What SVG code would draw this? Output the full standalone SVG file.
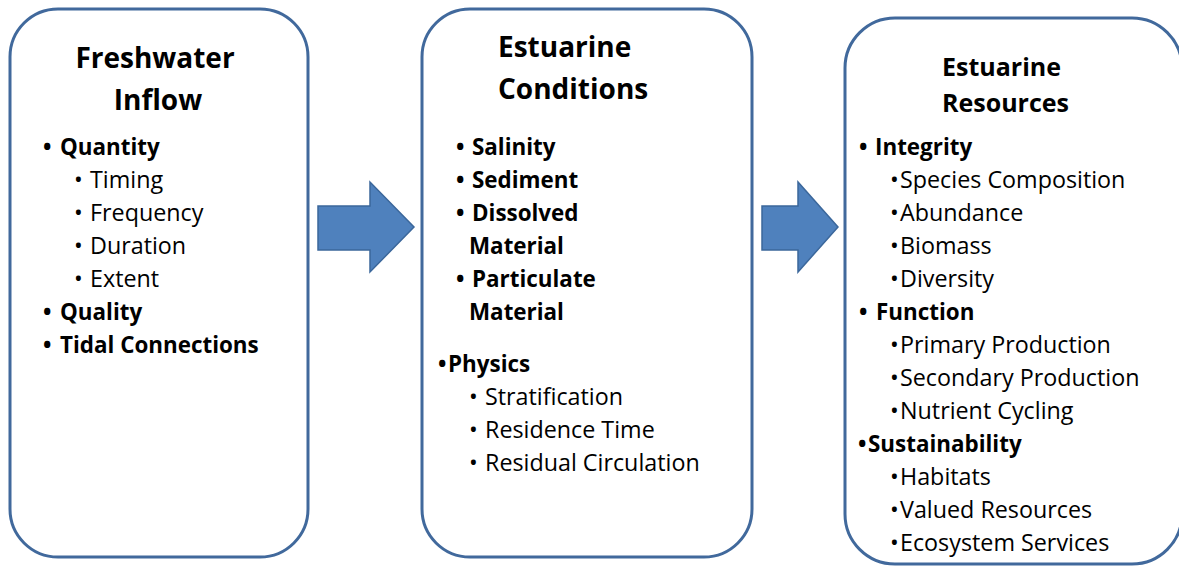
<svg xmlns="http://www.w3.org/2000/svg" width="1179" height="567" viewBox="0 0 1179 567">
<style>
.box{fill:#ffffff;stroke:#41699c;stroke-width:3}
.arrow{fill:#4f81bd;stroke:#3b679b;stroke-width:1.5}
text{font-family:"Open Sans","Liberation Sans",sans-serif;fill:#000}
.t1{font-size:28px;font-weight:bold}
.t3{font-size:25px;font-weight:bold}
.b{font-size:22.4px;font-weight:bold}
.r{font-size:23.3px}
</style>
<rect width="1179" height="567" fill="#fff"/>
<g id="connectors">
<polygon class="arrow" points="318,206 370,206 370,182 414,227 370,272 370,250 318,250"/>
<polygon class="arrow" points="762,206 798,206 798,182 838,227 798,272 798,250 762,250"/>
</g>
<g id="freshwater-inflow">
<rect class="box" x="10" y="9" width="298" height="548" rx="48"/>
<text class="t1" x="155" y="68" text-anchor="middle">Freshwater</text>
<text class="t1" x="158" y="110" text-anchor="middle">Inflow</text>
<text class="b" y="155"><tspan x="43">•</tspan><tspan x="60">Quantity</tspan></text>
<text class="r" y="188"><tspan x="74">•</tspan><tspan x="90">Timing</tspan></text>
<text class="r" y="221"><tspan x="74">•</tspan><tspan x="90">Frequency</tspan></text>
<text class="r" y="254"><tspan x="74">•</tspan><tspan x="90">Duration</tspan></text>
<text class="r" y="287"><tspan x="74">•</tspan><tspan x="90">Extent</tspan></text>
<text class="b" y="320"><tspan x="43">•</tspan><tspan x="60">Quality</tspan></text>
<text class="b" y="353"><tspan x="43">•</tspan><tspan x="60">Tidal Connections</tspan></text>
</g>
<g id="estuarine-conditions">
<rect class="box" x="422" y="9" width="330" height="548" rx="48"/>
<text class="t1" x="498" y="57">Estuarine</text>
<text class="t1" x="498" y="99">Conditions</text>
<text class="b" y="155"><tspan x="456">•</tspan><tspan x="472">Salinity</tspan></text>
<text class="b" y="188"><tspan x="456">•</tspan><tspan x="472">Sediment</tspan></text>
<text class="b" y="221"><tspan x="456">•</tspan><tspan x="472">Dissolved</tspan></text>
<text class="b" x="469" y="254">Material</text>
<text class="b" y="287"><tspan x="456">•</tspan><tspan x="472">Particulate</tspan></text>
<text class="b" x="469" y="320">Material</text>
<text class="b" y="372"><tspan x="438">•</tspan><tspan x="448">Physics</tspan></text>
<text class="r" y="405"><tspan x="469">•</tspan><tspan x="485">Stratification</tspan></text>
<text class="r" y="438"><tspan x="469">•</tspan><tspan x="485">Residence Time</tspan></text>
<text class="r" y="471"><tspan x="469">•</tspan><tspan x="485">Residual Circulation</tspan></text>
</g>
<g id="estuarine-resources">
<rect class="box" x="845" y="18" width="337" height="546" rx="50"/>
<text class="t3" x="942" y="76">Estuarine</text>
<text class="t3" x="942" y="112">Resources</text>
<text class="b" y="155"><tspan x="859">•</tspan><tspan x="875">Integrity</tspan></text>
<text class="r" y="188"><tspan x="890">•</tspan><tspan x="900">Species Composition</tspan></text>
<text class="r" y="221"><tspan x="890">•</tspan><tspan x="900">Abundance</tspan></text>
<text class="r" y="254"><tspan x="890">•</tspan><tspan x="900">Biomass</tspan></text>
<text class="r" y="287"><tspan x="890">•</tspan><tspan x="900">Diversity</tspan></text>
<text class="b" y="320"><tspan x="859">•</tspan><tspan x="876">Function</tspan></text>
<text class="r" y="353"><tspan x="890">•</tspan><tspan x="900">Primary Production</tspan></text>
<text class="r" y="386"><tspan x="890">•</tspan><tspan x="900">Secondary Production</tspan></text>
<text class="r" y="419"><tspan x="890">•</tspan><tspan x="900">Nutrient Cycling</tspan></text>
<text class="b" y="452"><tspan x="858">•</tspan><tspan x="868">Sustainability</tspan></text>
<text class="r" y="485"><tspan x="890">•</tspan><tspan x="900">Habitats</tspan></text>
<text class="r" y="518"><tspan x="890">•</tspan><tspan x="900">Valued Resources</tspan></text>
<text class="r" y="551"><tspan x="890">•</tspan><tspan x="900">Ecosystem Services</tspan></text>
</g>
</svg>
